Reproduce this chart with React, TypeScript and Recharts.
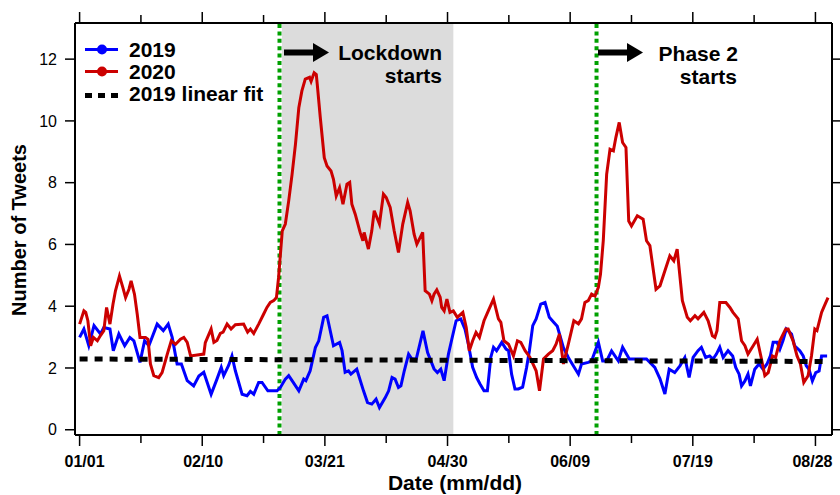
import { LineChart, Line, XAxis, YAxis, ReferenceArea, ReferenceLine } from "recharts";

const FONT = "'Liberation Sans', Arial, Helvetica, sans-serif";

// day of year (01/01 = 0) and tweets per day
const days2019 = [
  0, 1.4, 3.0, 4.7, 6.8, 7.9, 9.9, 11.0, 12.8, 14.7, 16.4, 17.7, 19.7, 21.2, 22.6, 25.3, 27.3, 28.9, 30.2, 31.8,
  33.2, 35.1, 37.2, 38.9, 40.5, 42.9, 44.8, 46.2, 47.0, 48.6, 49.7, 50.8, 53.0, 54.6, 55.7, 56.8, 58.4, 59.5, 61.4, 64.4,
  65.5, 67.1, 68.2, 69.3, 71.5, 73.1, 73.8, 75.2, 76.9, 78.0, 79.6, 80.7, 82.8, 84.8, 85.6, 86.6, 87.7, 88.5, 90.4, 92.6,
  93.9, 95.3, 96.7, 97.8, 99.7, 100.8, 101.9, 102.9, 104.0, 104.8, 105.9, 107.3, 108.4, 109.8, 112.0, 113.5, 115.6, 116.7, 117.8, 118.9,
  120.3, 121.4, 122.8, 124.3, 125.7, 126.8, 128.2, 129.5, 130.6, 131.9, 133.0, 134.1, 135.0, 136.0, 137.7, 139.1, 139.9, 140.9, 142.0, 143.1,
  144.5, 145.8, 146.7, 147.8, 148.9, 150.4, 151.8, 153.2, 154.7, 155.8, 157.8, 159.4, 162.7, 163.7, 165.9, 167.0, 169.2, 170.6, 171.9, 173.5,
  175.7, 177.1, 179.3, 184.9, 187.6, 189.3, 190.9, 192.3, 194.1, 195.8, 197.4, 198.8, 200.1, 201.7, 202.8, 204.2, 205.5, 206.6, 207.7, 208.8,
  209.9, 211.5, 213.0, 214.0, 215.1, 215.9, 217.0, 218.0, 218.8, 220.2, 221.6, 222.9, 224.2, 225.3, 226.2, 227.5, 228.4, 229.4, 230.5, 232.2,
  233.2, 234.9, 236.0, 237.0, 237.9, 239.0, 240.1, 241.2, 242.0, 243.8,
];
const tweets2019 = [
  2.99, 3.26, 2.72, 3.37, 3.10, 3.31, 3.26, 2.56, 3.10, 2.72, 2.99, 2.88, 2.18, 2.88, 2.72, 3.42, 3.21, 3.42, 2.99, 2.13,
  2.13, 1.59, 1.42, 1.74, 1.86, 1.15, 1.64, 2.02, 1.75, 2.08, 2.39, 1.91, 1.15, 1.10, 1.24, 1.15, 1.53, 1.53, 1.26, 1.26,
  1.37, 1.64, 1.75, 1.59, 1.26, 1.64, 1.59, 1.91, 2.66, 2.88, 3.64, 3.69, 2.72, 2.83, 2.56, 1.86, 1.91, 1.80, 1.96, 1.26,
  0.88, 0.83, 0.99, 0.72, 1.04, 1.26, 1.69, 1.64, 1.37, 1.42, 1.91, 2.45, 2.29, 2.29, 3.20, 2.50, 1.97, 1.85, 1.96, 1.59,
  2.45, 2.93, 3.53, 3.59, 3.26, 2.77, 2.02, 1.69, 1.48, 1.26, 1.26, 2.34, 2.67, 2.56, 2.83, 2.61, 2.56, 1.80, 1.32, 1.32,
  1.38, 2.02, 2.56, 3.37, 3.59, 4.07, 4.12, 3.64, 3.47, 3.35, 2.66, 2.34, 1.80, 2.13, 2.18, 2.23, 2.83, 2.23, 2.23, 2.55,
  2.23, 2.67, 2.29, 2.29, 2.02, 1.65, 1.16, 1.96, 1.85, 2.07, 2.34, 1.69, 2.34, 2.56, 2.67, 2.34, 2.39, 2.29, 2.45, 2.67,
  2.34, 2.56, 2.39, 2.02, 1.80, 1.42, 1.58, 1.80, 1.42, 1.96, 2.13, 1.96, 2.13, 2.39, 2.83, 2.83, 2.61, 2.88, 3.26, 3.10,
  2.72, 2.56, 2.39, 2.07, 1.96, 1.58, 1.85, 1.90, 2.39, 2.39,
];

const days2020 = [
  0, 1.4, 2.0, 2.7, 3.6, 4.5, 5.8, 6.8, 7.9, 8.8, 9.9, 10.9, 11.7, 13.0, 14.1, 15.0, 16.1, 16.8, 17.9, 18.8,
  19.7, 21.5, 22.3, 23.1, 24.2, 25.8, 26.9, 28.6, 29.9, 31.3, 32.9, 34.0, 35.1, 36.2, 40.5, 41.0, 42.9, 43.8, 44.8, 45.9,
  46.8, 48.1, 49.4, 50.8, 53.5, 54.8, 55.7, 56.8, 58.4, 60.0, 61.1, 62.2, 63.3, 64.2, 64.9, 65.5, 66.1, 67.1, 68.2, 69.3,
  70.4, 71.5, 72.5, 73.6, 75.0, 75.5, 76.5, 77.2, 77.5, 78.5, 79.8, 80.7, 82.0, 82.8, 83.7, 84.8, 85.9, 87.2, 88.1, 88.8,
  89.9, 91.5, 92.4, 92.8, 94.2, 95.3, 96.1, 97.8, 99.1, 100.0, 101.3, 102.6, 104.0, 105.4, 107.0, 107.8, 109.1, 110.0, 111.9, 112.7,
  114.1, 114.9, 115.6, 116.5, 117.6, 118.1, 118.9, 119.8, 120.8, 121.9, 123.2, 125.0, 126.1, 127.1, 128.2, 129.3, 130.4, 131.9, 133.3, 135.0,
  136.6, 137.4, 138.4, 139.9, 141.5, 142.8, 143.9, 145.3, 146.9, 148.9, 150.0, 151.3, 152.9, 154.3, 155.4, 156.5, 157.8, 159.4, 161.2, 162.7,
  163.7, 164.8, 165.9, 167.0, 168.1, 169.2, 169.9, 170.8, 171.9, 173.0, 174.1, 174.9, 176.0, 177.1, 178.2, 179.1, 180.0, 181.9, 183.8, 184.9,
  186.0, 188.0, 189.3, 190.9, 192.5, 193.8, 194.9, 196.6, 198.2, 199.2, 200.7, 201.7, 203.6, 205.0, 206.4, 207.2, 207.9, 208.8, 210.8, 212.1,
  213.1, 214.8, 215.9, 217.0, 218.0, 219.7, 221.0, 222.4, 223.5, 224.6, 226.0, 227.0, 228.4, 230.3, 231.1, 232.7, 234.0, 235.1, 236.2, 237.6,
  238.7, 239.8, 240.5, 242.0, 242.7, 244.1,
];
const tweets2020 = [
  3.42, 3.85, 3.80, 3.53, 2.72, 2.99, 2.88, 3.05, 3.21, 3.96, 3.42, 4.07, 4.50, 4.98, 4.61, 4.28, 4.55, 4.82, 4.39, 3.74,
  2.99, 2.99, 2.93, 2.13, 1.75, 1.69, 1.85, 2.45, 2.88, 2.77, 2.93, 2.99, 2.83, 2.39, 2.45, 2.82, 3.26, 2.83, 2.89, 3.12,
  3.16, 3.42, 3.26, 3.40, 3.42, 3.16, 3.26, 3.12, 3.42, 3.74, 3.96, 4.12, 4.18, 4.28, 4.93, 5.69, 6.44, 6.66, 7.41, 8.27,
  9.24, 10.43, 10.97, 11.35, 11.41, 11.28, 11.56, 11.50, 11.20, 10.11, 8.81, 8.54, 8.38, 8.11, 7.57, 7.84, 7.30, 7.95, 8.01, 7.30,
  6.98, 6.39, 6.12, 6.39, 5.85, 6.44, 7.09, 6.66, 7.63, 7.52, 7.20, 6.44, 5.74, 6.66, 7.36, 7.09, 6.33, 6.01, 6.39, 4.50,
  4.39, 4.18, 4.39, 4.53, 4.29, 3.96, 3.85, 4.23, 3.80, 3.85, 3.64, 3.80, 3.31, 2.56, 2.88, 3.15, 2.99, 3.53, 3.85, 4.23,
  3.59, 3.48, 2.88, 2.77, 2.39, 2.88, 2.83, 2.56, 2.34, 1.91, 1.26, 2.29, 2.45, 2.56, 2.77, 3.10, 2.13, 2.77, 3.53, 3.43,
  3.59, 4.12, 4.18, 4.39, 4.33, 4.61, 5.04, 6.12, 8.27, 9.08, 9.03, 9.46, 9.95, 9.30, 9.14, 6.76, 6.60, 6.93, 6.82, 6.12,
  5.96, 4.55, 4.66, 5.15, 5.63, 5.47, 5.85, 4.18, 3.64, 3.53, 3.69, 3.59, 3.80, 3.53, 3.04, 2.99, 3.21, 4.12, 4.12, 3.96,
  3.80, 3.59, 2.88, 2.72, 2.45, 2.72, 2.93, 2.29, 1.75, 1.85, 2.39, 2.34, 2.88, 3.26, 3.26, 2.88, 2.39, 2.13, 1.53, 1.75,
  2.39, 3.26, 3.21, 3.80, 3.96, 4.28,
];

const fitDays = [0, 243];
const fitValues = [2.29, 2.21];

const majorTicks = [0, 40, 80, 120, 160, 200, 240];
const minorTicks = [20, 60, 100, 140, 180, 220];
const tickLabels = ["01/01", "02/10", "03/21", "04/30", "06/09", "07/19", "08/28"];
const labelShift = [5, 1, 0, 0, 0, 0, -3];
const yTicks = [0, 2, 4, 6, 8, 10, 12];

const lockdownDay = 65.2;
const lockdownEnd = 121.9;
const phase2Day = 168.6;

const xTicks = [...majorTicks, ...minorTicks].sort((a, b) => a - b);
const data2019 = days2019.map((d, i) => ({ day: d, v: tweets2019[i] }));
const data2020 = days2020.map((d, i) => ({ day: d, v: tweets2020[i] }));
const fitData = fitDays.map((d, i) => ({ day: d, v: fitValues[i] }));

function BottomTick(props: any) {
  const { x, y, payload } = props;
  const i = majorTicks.indexOf(payload.value);
  const major = i >= 0;
  return (
    <g>
      <line x1={x} x2={x} y1={y} y2={y + (major ? 11 : 8)} stroke="#000" strokeWidth={1.5} />
      {major && (
        <text x={x + labelShift[i]} y={y + 32} textAnchor="middle" fontSize={16} fontWeight="bold" fontFamily={FONT} fill="#000">
          {tickLabels[i]}
        </text>
      )}
    </g>
  );
}

function TopTick(props: any) {
  const { x, y, payload } = props;
  const major = majorTicks.includes(payload.value);
  return <line x1={x} x2={x} y1={y} y2={y - (major ? 11 : 8)} stroke="#000" strokeWidth={1.5} />;
}

function Arrow({ x1, x2, y }: { x1: number; x2: number; y: number }) {
  return (
    <g>
      <line x1={x1} x2={x2 - 14} y1={y} y2={y} stroke="#000" strokeWidth={6} />
      <polygon points={`${x2 - 16},${y - 9.5} ${x2},${y} ${x2 - 16},${y + 9.5}`} fill="#000" />
    </g>
  );
}

export default function App() {
  return (
    <div style={{ position: "relative", width: 840, height: 495, background: "#fff" }}>
      <style>{"body{margin:0}"}</style>
      <LineChart width={840} height={495} margin={{ top: 0, right: 0, bottom: 0, left: 0 }}>
        <XAxis
          dataKey="day"
          type="number"
          domain={[-1.5, 245.4]}
          allowDataOverflow
          ticks={xTicks}
          interval={0}
          tickSize={0}
          tickMargin={0}
          tickLine={false}
          tick={BottomTick}
          height={60}
          axisLine={{ stroke: "#000", strokeWidth: 2 }}
        />
        <XAxis
          xAxisId="top"
          orientation="top"
          dataKey="day"
          type="number"
          domain={[-1.5, 245.4]}
          allowDataOverflow
          ticks={xTicks}
          interval={0}
          tickSize={0}
          tickMargin={0}
          tickLine={false}
          tick={TopTick}
          height={23}
          axisLine={{ stroke: "#000", strokeWidth: 2 }}
        />
        <YAxis
          type="number"
          domain={[-0.17, 13.17]}
          allowDataOverflow
          ticks={yTicks}
          interval={0}
          width={75}
          tickSize={10}
          tickMargin={8}
          tickLine={{ stroke: "#000", strokeWidth: 1.5 }}
          axisLine={{ stroke: "#000", strokeWidth: 2 }}
          tick={{ fill: "#000", fontSize: 16, fontFamily: FONT }}
        />
        <YAxis
          yAxisId="right"
          orientation="right"
          type="number"
          domain={[-0.17, 13.17]}
          allowDataOverflow
          ticks={yTicks}
          interval={0}
          width={8}
          tickSize={8}
          tickLine={{ stroke: "#000", strokeWidth: 1.5 }}
          axisLine={{ stroke: "#000", strokeWidth: 2 }}
          tick={() => <g />}
        />
        <ReferenceArea x1={lockdownDay + 0.8} x2={lockdownEnd} fill="#DCDCDC" fillOpacity={1} stroke="none" />
        <ReferenceLine x={lockdownDay} stroke="#00A000" strokeWidth={4} strokeDasharray="4 3.4" />
        <ReferenceLine x={phase2Day} stroke="#00A000" strokeWidth={4} strokeDasharray="4 3.4" />
        <Line data={data2019} dataKey="v" type="linear" stroke="#0000FF" strokeWidth={3} dot={false} isAnimationActive={false} />
        <Line data={data2020} dataKey="v" type="linear" stroke="#CC0000" strokeWidth={3} dot={false} isAnimationActive={false} />
        <Line data={fitData} dataKey="v" type="linear" stroke="#000" strokeWidth={5} strokeDasharray="8 7" dot={false} isAnimationActive={false} />
      </LineChart>
      <svg width={840} height={495} style={{ position: "absolute", left: 0, top: 0, pointerEvents: "none" }} fontFamily={FONT} fontWeight="bold">
        {/* legend */}
        <line x1={85} x2={118} y1={49.5} y2={49.5} stroke="#0000FF" strokeWidth={3} />
        <circle cx={102} cy={49.5} r={5} fill="#0000FF" />
        <text x={129} y={57} fontSize={21}>2019</text>
        <line x1={85} x2={118} y1={71.5} y2={71.5} stroke="#CC0000" strokeWidth={3} />
        <circle cx={102} cy={71.5} r={5} fill="#CC0000" />
        <text x={129} y={79} fontSize={21}>2020</text>
        <line x1={85} x2={119} y1={95.5} y2={95.5} stroke="#000" strokeWidth={5} strokeDasharray="7 6" />
        <text x={129} y={101} fontSize={21}>2019 linear fit</text>
        {/* annotations */}
        <Arrow x1={284} x2={329} y={52.5} />
        <text x={442} y={60} fontSize={21} textAnchor="end">Lockdown</text>
        <text x={442} y={83} fontSize={21} textAnchor="end">starts</text>
        <Arrow x1={598} x2={643} y={52.5} />
        <text x={738} y={61} fontSize={21} textAnchor="end">Phase 2</text>
        <text x={737} y={84} fontSize={21} textAnchor="end">starts</text>
        {/* axis titles */}
        <text x={26} y={230} fontSize={20} textAnchor="middle" transform="rotate(-90, 26, 230)">Number of Tweets</text>
        <text x={455} y={490} fontSize={21} textAnchor="middle">Date (mm/dd)</text>
      </svg>
    </div>
  );
}
